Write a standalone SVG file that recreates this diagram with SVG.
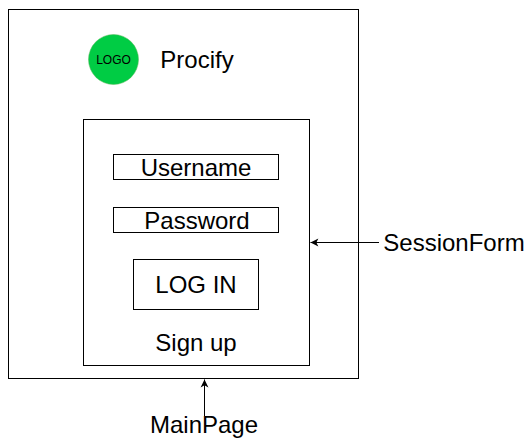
<svg xmlns="http://www.w3.org/2000/svg" width="532" height="447" viewBox="0 0 532 447">
<defs>
<style>
.b{fill:#fff;stroke:#000;stroke-width:1}
text{font-family:"Liberation Sans",Arial,sans-serif;fill:#000;font-size:24px;text-anchor:middle}
.c{fill:none;stroke:#000;stroke-width:1}
</style>
<marker id="ah" markerUnits="userSpaceOnUse" markerWidth="9" markerHeight="9" refX="7.5" refY="4" orient="auto" viewBox="0 0 8 8">
<path d="M7.500 4L0.500 0.500L2.300 4L0.500 7.500Z" fill="#000"/>
</marker>
</defs>
<rect width="532" height="447" fill="#fff"/>
<g id="main-page"><rect class="b" x="8.500" y="9.500" width="350" height="369"/></g>
<g id="logo"><circle cx="113.500" cy="59.500" r="25" fill="#00cc44" stroke="#5cb85c" stroke-width="0.500"/><text x="113.500" y="64" style="font-size:12px">LOGO</text></g>
<g id="procify"><text x="197" y="68">Procify</text></g>
<g id="session-form"><rect class="b" x="83.500" y="119.500" width="226" height="246"/></g>
<g id="username"><rect class="b" x="113.500" y="154.500" width="165" height="25"/><text x="196" y="176">Username</text></g>
<g id="password"><rect class="b" x="113.500" y="207.500" width="165" height="25"/><text x="197" y="229">Password</text></g>
<g id="login"><rect class="b" x="133.500" y="259.500" width="125" height="50"/><text x="196" y="293">LOG IN</text></g>
<g id="signup"><text x="196" y="351">Sign up</text></g>
<g id="session-label"><text x="454" y="251">SessionForm</text></g>
<g id="main-label"><text x="204" y="433">MainPage</text></g>
<g id="connectors">
<line class="c" x1="379" y1="242.500" x2="310.500" y2="242.500" marker-end="url(#ah)"/>
<line class="c" x1="204.500" y1="416" x2="204.500" y2="379.500" marker-end="url(#ah)"/>
</g>
</svg>
